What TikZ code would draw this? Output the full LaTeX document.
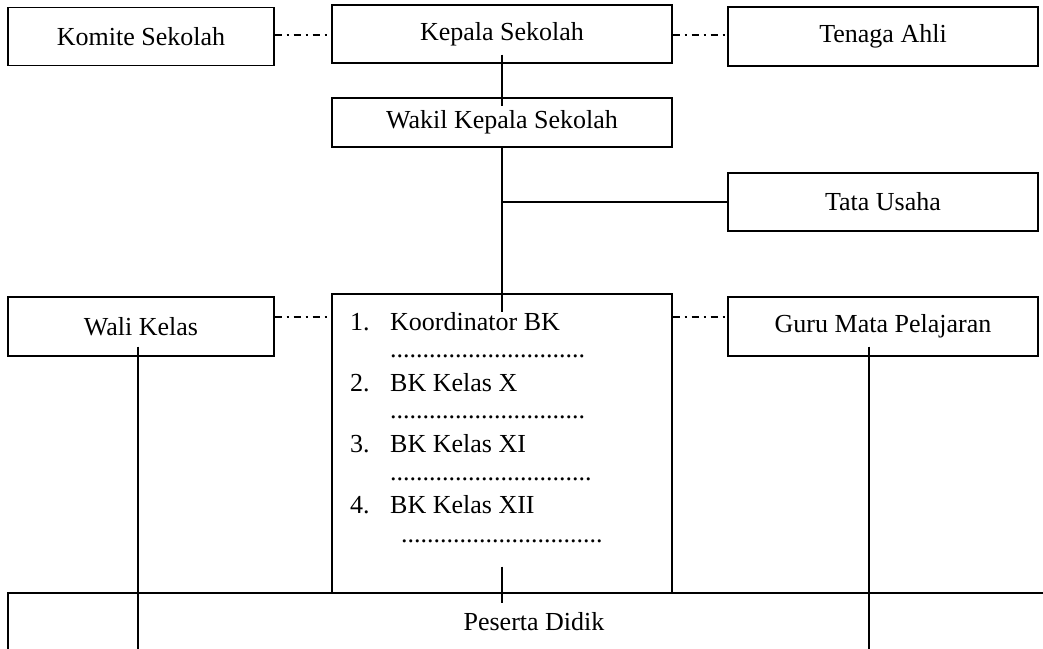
\documentclass[tikz,border=0pt]{standalone}
\usepackage{fontspec}
\setmainfont{Liberation Serif}
\usetikzlibrary{calc}
\begin{document}
\begin{tikzpicture}[x=1pt,y=-1pt,
  box/.style={draw,line width=1.2pt,rectangle,inner sep=0pt,align=center,font=\fontsize{26}{31}\selectfont},
  txt/.style={inner sep=0pt,anchor=base west,font=\fontsize{26}{31}\selectfont},
  link/.style={line width=1.8pt},
  dotlink/.style={line width=1.5pt,dash pattern=on 7pt off 5pt on 2pt off 5pt}]
\useasboundingbox (0,0) rectangle (1043,648);
% top row
\node[box,minimum width=266pt,minimum height=58pt] (komite) at (141,36.5) {Komite Sekolah};
\node[box,minimum width=340pt,minimum height=58pt] (kepala) at (502,34) {Kepala Sekolah};
\node[box,minimum width=310pt,minimum height=59pt] (tenaga) at (883,36.5) {Tenaga Ahli};
% second level
\node[box,minimum width=340pt,minimum height=49pt] (wakil) at (502,122.5) {Wakil Kepala Sekolah};
\node[box,minimum width=310pt,minimum height=58pt] (tata) at (883,202) {Tata Usaha};
% third level
\node[box,minimum width=266pt,minimum height=59pt] (wali) at (141,326.5) {Wali Kelas};
\node[box,minimum width=340pt,minimum height=299pt] (bk) at (502,443.5) {};
\node[box,minimum width=310pt,minimum height=59pt] (guru) at (883,326.5) {Guru Mata Pelajaran};
% bottom bar
\node[box,minimum width=1052pt,minimum height=58pt] (peserta) at (534,622) {Peserta Didik};
% counselling list
\node[txt] (n1) at (350,330) {1.};
\node[txt] (i1) at (390,330) {Koordinator BK};
\node[txt] (d1) at (390,357) {..............................};
\node[txt] (n2) at (350,391) {2.};
\node[txt] (i2) at (390,391) {BK Kelas X};
\node[txt] (d2) at (390,418) {..............................};
\node[txt] (n3) at (350,452) {3.};
\node[txt] (i3) at (390,452) {BK Kelas XI};
\node[txt] (d3) at (390,480) {...............................};
\node[txt] (n4) at (350,513) {4.};
\node[txt] (i4) at (390,513) {BK Kelas XII};
\node[txt] (d4) at (401,542) {...............................};
% command lines
\draw[link] ($(kepala.south)+(0,-9)$) -- ($(wakil.north)+(0,9)$);
\draw[link] ($(wakil.south)+(0,-1)$) -- ($(bk.north)+(0,19)$);
\coordinate (branch) at (wakil.south |- tata.west);
\draw[link] (branch) -- (tata.west);
\draw[link] ($(bk.south)+(0,-27)$) -- ($(bk.south)+(0,9)$);
\coordinate (walitop) at ($(wali.south)+(-3,-10)$);
\coordinate (gurutop) at ($(guru.south)+(-14,-10)$);
\draw[link] (walitop) -- (walitop |- peserta.south);
\draw[link] (gurutop) -- (gurutop |- peserta.south);
% coordination lines
\draw[dotlink] (komite.east |- 0,35) -- (kepala.west |- 0,35);
\draw[dotlink] (kepala.east |- 0,35) -- (tenaga.west |- 0,35);
\draw[dotlink] (wali.east |- 0,317) -- (bk.west |- 0,317);
\draw[dotlink] (bk.east |- 0,317) -- (guru.west |- 0,317);
\end{tikzpicture}
\end{document}
